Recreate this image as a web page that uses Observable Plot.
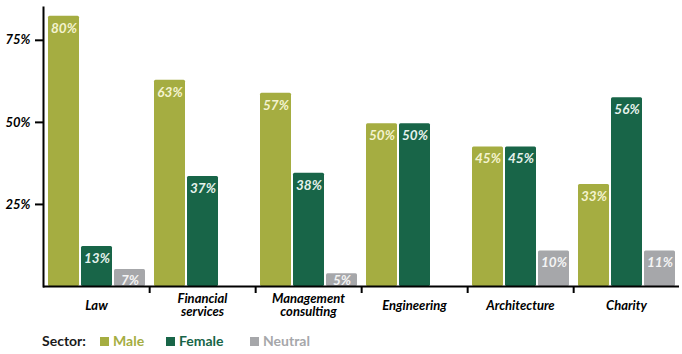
<!DOCTYPE html>
<html><head><meta charset="utf-8">
<script src="https://cdn.jsdelivr.net/npm/d3@7"></script>
<script src="https://cdn.jsdelivr.net/npm/@observablehq/plot@0.6"></script>
<style>
body{margin:0;background:#fff;font-family:Lato,"Open Sans",sans-serif;}
#chart svg{display:block;}
#legend{position:relative;height:30px;font-family:Lato,"Open Sans",sans-serif;font-weight:bold;font-size:14px;}
#legend .item{position:absolute;top:9px;line-height:16px;display:flex;align-items:center;white-space:nowrap;}
#legend .sw{display:inline-block;width:9px;height:9px;margin-right:4px;}
</style></head><body>
<div id="chart"></div>
<div id="legend"></div>
<script>
const sectors = ["Law","Financial services","Management consulting","Engineering","Architecture","Charity"];
const sectorLabels = ["Law","Financial\nservices","Management\nconsulting","Engineering","Architecture","Charity"];
const genders = ["Male","Female","Neutral"];
const male = [82.3,62.8,58.9,49.6,42.5,31.1];
const female = [12.2,33.5,34.5,49.6,42.5,57.5];
const neutral = [5.2,null,3.9,null,10.8,10.8];
const maleLabels = ["80%","63%","57%","50%","45%","33%"];
const femaleLabels = ["13%","37%","38%","50%","45%","56%"];
const neutralLabels = ["7%","","5%","","10%","11%"];
const yTicks = [25,50,75];
const colors = ["#a5ad41","#186548","#a6a7aa"];
const labelColors = ["#f4f3cf","#e6f2ec","#f4f4f4"];

const series = [male, female, neutral];
const labels = [maleLabels, femaleLabels, neutralLabels];
const rows = [];
genders.forEach((g, gi) => {
  sectors.forEach((s, si) => {
    const v = series[gi][si];
    if (v != null) rows.push({sector: s, gender: g, value: v, label: labels[gi][si]});
  });
});

const W = 682, H = 324, mL = 42, mR = 2, mT = 7, mB = 38;
const facetW = (W - mL - mR) / sectors.length;
const font = {fontWeight: "bold", fontStyle: "italic"};

const marks = [];
genders.forEach((g, gi) => {
  const d = rows.filter(r => r.gender === g);
  marks.push(Plot.barY(d, {fx: "sector", x: "gender", y: "value", fill: colors[gi], rx: 1.5}));
});
genders.forEach((g, gi) => {
  const d = rows.filter(r => r.gender === g);
  marks.push(Plot.text(d, {fx: "sector", x: "gender", y: r => Math.max(r.value - 3.66, 1.8), text: "label", fill: labelColors[gi], lineAnchor: "middle", fontSize: 13.5, ...font}));
});
marks.push(Plot.ruleY([0], {stroke: "#000", strokeWidth: 2}));
marks.push(Plot.frame({anchor: "left", stroke: "#000", strokeWidth: 2, facetAnchor: "left"}));
marks.push(Plot.axisY({ticks: yTicks, tickFormat: d => d + "%", tickSize: 8, tickPadding: 5, strokeWidth: 2, fontSize: 13, fill: "#000", label: null, ...font}));
marks.push(Plot.axisFx({anchor: "bottom", ticks: sectors.slice(0, -1), tickSize: 7, fill: "none", stroke: "#000", dx: facetW / 2, strokeWidth: 2, label: null}));
marks.push(Plot.axisFx({anchor: "bottom", tickSize: 0, tickPadding: 19, lineAnchor: "middle", tickFormat: s => sectorLabels[sectors.indexOf(s)], fontSize: 13, fill: "#000", label: null, ...font}));

const chart = Plot.plot({
  width: W, height: H,
  marginLeft: mL, marginRight: mR, marginTop: mT, marginBottom: mB,
  style: {fontFamily: "Lato, 'Open Sans', sans-serif", background: "#fff", color: "#000"},
  fx: {domain: sectors, padding: 0, label: null},
  x: {domain: genders, paddingInner: 0.066, paddingOuter: 0.134, axis: null},
  y: {domain: [0, 85], axis: null},
  marks
});
document.getElementById("chart").appendChild(chart);

const legend = document.getElementById("legend");
const items = [
  {text: "Sector:", color: "#1a1a1a", left: 42, swatch: null},
  {text: genders[0], color: colors[0], left: 100, swatch: colors[0]},
  {text: genders[1], color: colors[1], left: 166, swatch: colors[1]},
  {text: genders[2], color: colors[2], left: 250, swatch: colors[2]}
];
items.forEach(it => {
  const el = document.createElement("div");
  el.className = "item";
  el.style.left = it.left + "px";
  el.style.color = it.color;
  if (it.swatch) {
    const sw = document.createElement("span");
    sw.className = "sw";
    sw.style.background = it.swatch;
    el.appendChild(sw);
  }
  el.appendChild(document.createTextNode(it.text));
  legend.appendChild(el);
});
</script>
</body></html>
